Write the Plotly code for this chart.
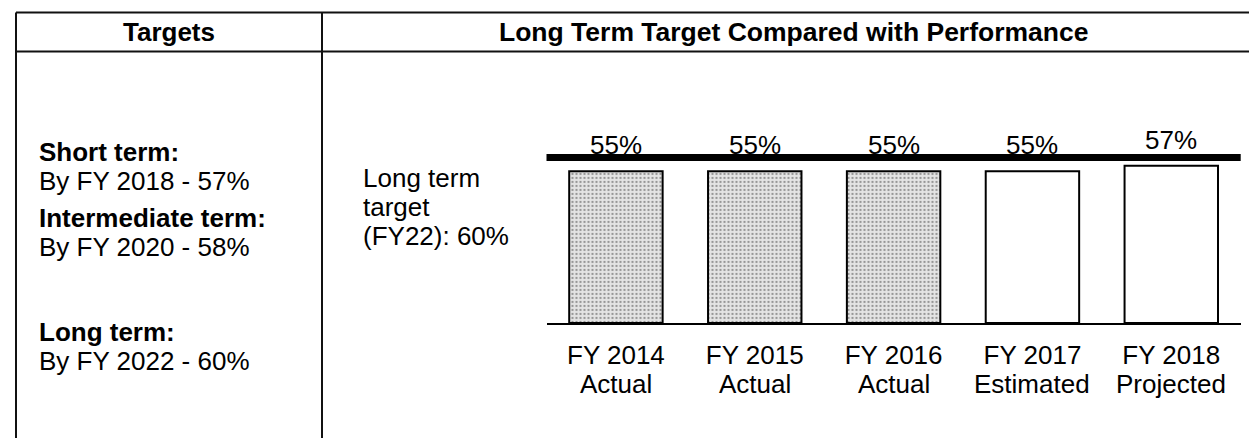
import plotly.graph_objects as go

# ---------------- data ----------------
years = ["FY 2014", "FY 2015", "FY 2016", "FY 2017", "FY 2018"]
statuses = ["Actual", "Actual", "Actual", "Estimated", "Projected"]
values = [55, 55, 55, 55, 57]
long_term_target = 60

header_left = "Targets"
header_right = "Long Term Target Compared with Performance"
target_terms = ["Short term:", "Intermediate term:", "Long term:"]
target_texts = ["By FY 2018 - 57%", "By FY 2020 - 58%", "By FY 2022 - 60%"]
target_note = ["Long term", "target", "(FY22): 60%"]

# ---------------- layout helpers ----------------
W, H = 1257, 438
FONT = "Arial, Liberation Sans, sans-serif"
FS = 26


def px(x):
    return x / W


def py(y):
    return 1 - y / H


def txt_font(size=FS):
    return dict(size=size, color="black", family=FONT)


fill = ["#e4e4e4" if s == "Actual" else "white" for s in statuses]
shapes_pat = ["." if s == "Actual" else "" for s in statuses]

base_y, top_y = 315, 44
k = 2.76
yrange = [0, (base_y - top_y) / k]

fig = go.Figure()
fig.add_trace(go.Bar(
    x=years, y=values,
    marker=dict(color=fill, line=dict(color="black", width=2),
                pattern=dict(shape=shapes_pat, fillmode="overlay",
                             fgcolor="#8c8c8c", size=4, solidity=0.25)),
    width=0.673, hoverinfo="skip", showlegend=False,
))

annotations = []
# value labels
for c, v in zip(years, values):
    annotations.append(dict(x=c, y=v, xref="x", yref="y", text=f"{v}%",
                            showarrow=False, yanchor="bottom", yshift=9,
                            font=txt_font()))
# status line under the year tick labels
for c, s in zip(years, statuses):
    annotations.append(dict(x=c, y=py(376), xref="x", yref="paper", text=s,
                            showarrow=False, xanchor="center", yanchor="middle",
                            font=txt_font()))

# headers
annotations.append(dict(x=px(161), y=py(24), xref="paper", yref="paper",
                        text=f"<b>{header_left}</b>", showarrow=False,
                        xanchor="center", yanchor="middle", font=txt_font()))
annotations.append(dict(x=px(785), y=py(24), xref="paper", yref="paper",
                        text=f"<b>{header_right}</b>", showarrow=False,
                        xanchor="center", yanchor="middle", font=txt_font(26.5)))

# left column texts (baselines)
baselines = [(153, 182), (219, 248), (333, 362)]
for (b1, b2), term, t in zip(baselines, target_terms, target_texts):
    annotations.append(dict(x=px(30), y=py(b1 - 9), xref="paper", yref="paper",
                            text=f"<b>{term}</b>", showarrow=False, borderpad=0,
                            xanchor="left", yanchor="middle", font=txt_font()))
    annotations.append(dict(x=px(30), y=py(b2 - 9), xref="paper", yref="paper",
                            text=t, showarrow=False, borderpad=0,
                            xanchor="left", yanchor="middle", font=txt_font()))

# long-term note
for i, line in enumerate(target_note):
    annotations.append(dict(x=px(354), y=py(179 + 29 * i - 9), xref="paper", yref="paper",
                            text=line, showarrow=False, borderpad=0,
                            xanchor="left", yanchor="middle", font=txt_font()))

LC = "#111111"
shapes = [
    dict(type="line", xref="paper", yref="paper", x0=px(8), x1=px(1256), y0=py(4.5), y1=py(4.5),
         line=dict(color=LC, width=2)),
    dict(type="line", xref="paper", yref="paper", x0=px(8), x1=px(1256), y0=py(43.5), y1=py(43.5),
         line=dict(color=LC, width=2)),
    dict(type="line", xref="paper", yref="paper", x0=px(8), x1=px(8), y0=py(4.5), y1=0,
         line=dict(color=LC, width=2)),
    dict(type="line", xref="paper", yref="paper", x0=px(314), x1=px(314), y0=py(4.5), y1=0,
         line=dict(color=LC, width=2)),
    dict(type="line", xref="paper", yref="paper", x0=px(1256), x1=px(1256), y0=py(4.5), y1=0,
         line=dict(color=LC, width=2)),
    # long-term target line
    dict(type="line", xref="x domain", yref="y", x0=0, x1=1,
         y0=long_term_target, y1=long_term_target,
         line=dict(color="black", width=7), layer="above"),
]

fig.update_layout(
    width=W, height=H,
    margin=dict(l=0, r=0, t=0, b=0),
    paper_bgcolor="white", plot_bgcolor="white",
    font=dict(family=FONT, size=FS, color="black"),
    xaxis=dict(domain=[px(538.5), px(1232.7)], showline=True, linecolor="black",
               linewidth=2, ticks="", showgrid=False, zeroline=False,
               tickfont=txt_font(), ticklabelstandoff=8, fixedrange=True),
    yaxis=dict(domain=[py(base_y), py(top_y)], range=yrange, visible=False,
               showgrid=False, zeroline=False, fixedrange=True),
    annotations=annotations,
    shapes=shapes,
    bargap=0.327,
    showlegend=False,
)

fig.write_html("out.html")
